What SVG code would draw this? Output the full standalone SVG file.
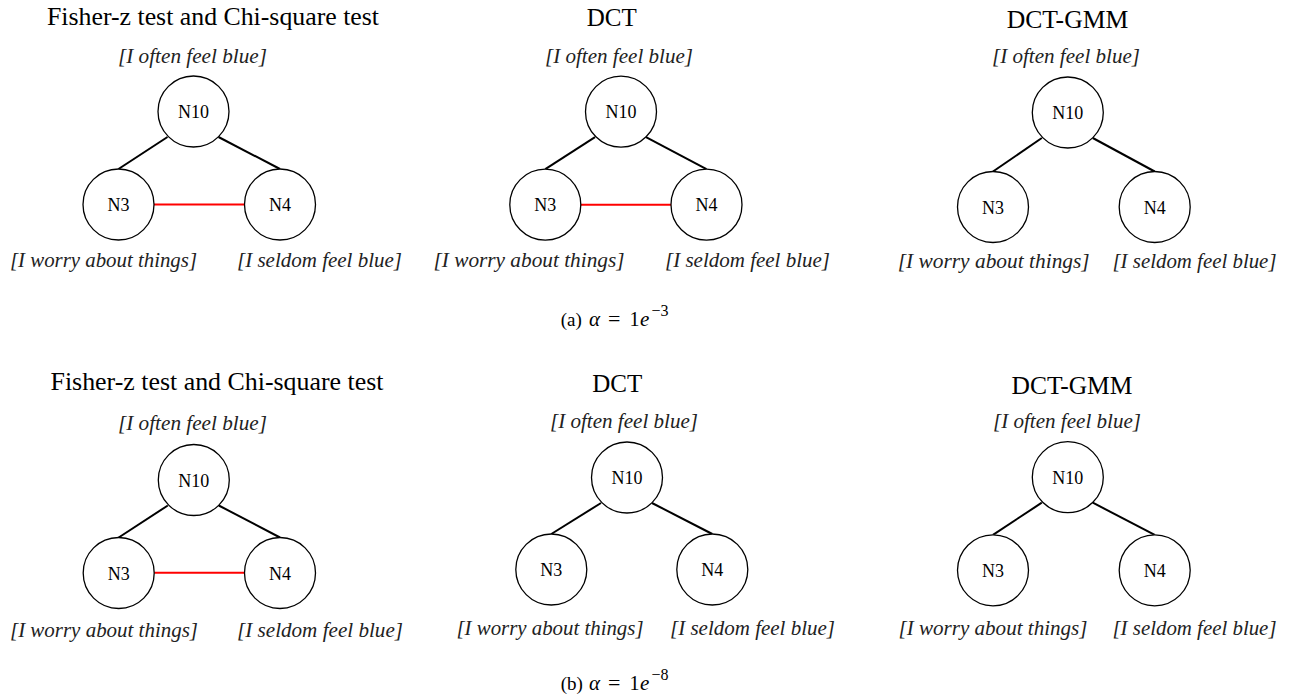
<svg xmlns="http://www.w3.org/2000/svg" width="1289" height="698" viewBox="0 0 1289 698">
<style>
  .bg{fill:#ffffff}
  .node circle{fill:#ffffff;stroke:#000000;stroke-width:1.3}
  .node text{font-family:"Liberation Serif","Times New Roman","DejaVu Serif",serif;font-size:18px;fill:#000;text-anchor:middle}
  .edge{stroke:#000000;stroke-width:2;fill:none}
  .red{stroke:#ff0000;stroke-width:2;fill:none}
  .title{font-family:"Liberation Serif","Times New Roman","DejaVu Serif",serif;font-size:25px;fill:#000;text-anchor:middle}
  .lab{font-family:"Liberation Serif","Times New Roman","DejaVu Serif",serif;font-size:20px;font-style:italic;fill:#222;text-anchor:middle}
  .cap{font-family:"Liberation Serif","Times New Roman","DejaVu Serif",serif;font-size:19px;fill:#000}
  .math{font-family:"Liberation Serif","Times New Roman",serif;font-style:italic;font-size:21px}
</style>
<rect class="bg" x="0" y="0" width="1289" height="698"/>

<g id="connectors">
  <line class="edge" x1="167.5" y1="137" x2="118.5" y2="169"/>
  <line class="edge" x1="218.5" y1="137" x2="280" y2="169"/>
  <line class="red" x1="154" y1="204.5" x2="244.5" y2="204.5"/>
  <line class="edge" x1="595" y1="137.2" x2="545.3" y2="169.2"/>
  <line class="edge" x1="646" y1="137.2" x2="706.5" y2="169.2"/>
  <line class="red" x1="580.8" y1="204.7" x2="671" y2="204.7"/>
  <line class="edge" x1="1041.8" y1="138" x2="993" y2="171.5"/>
  <line class="edge" x1="1092.8" y1="138" x2="1154.7" y2="171.5"/>
  <line class="edge" x1="167.8" y1="505.5" x2="118.7" y2="537.5"/>
  <line class="edge" x1="218.8" y1="505.5" x2="280" y2="537.5"/>
  <line class="red" x1="154.2" y1="572.8" x2="244.5" y2="572.8"/>
  <line class="edge" x1="601" y1="503" x2="551.3" y2="534"/>
  <line class="edge" x1="652" y1="503" x2="712.3" y2="534"/>
  <line class="edge" x1="1041.8" y1="502.7" x2="993" y2="534.8"/>
  <line class="edge" x1="1092.8" y1="502.7" x2="1154.7" y2="534.8"/>
</g>

<g id="a1-labels">
  <text class="title" x="213" y="25" textLength="332" lengthAdjust="spacingAndGlyphs">Fisher-z test and Chi-square test</text>
  <text class="lab" x="192.5" y="63" textLength="149" lengthAdjust="spacingAndGlyphs">[I often feel blue]</text>
  <text class="lab" x="103.5" y="267" textLength="187" lengthAdjust="spacingAndGlyphs">[I worry about things]</text>
  <text class="lab" x="319.5" y="267" textLength="165" lengthAdjust="spacingAndGlyphs">[I seldom feel blue]</text>
</g>
<g id="a1-N10" class="node"><circle cx="193.5" cy="111.5" r="35.5"/><text x="193.5" y="118">N10</text></g>
<g id="a1-N3" class="node"><circle cx="118.5" cy="204.5" r="35.5"/><text x="118.5" y="211">N3</text></g>
<g id="a1-N4" class="node"><circle cx="280" cy="204.5" r="35.5"/><text x="280" y="211">N4</text></g>

<g id="a2-labels">
  <text class="title" x="611.7" y="26" textLength="50" lengthAdjust="spacingAndGlyphs">DCT</text>
  <text class="lab" x="619" y="63" textLength="148" lengthAdjust="spacingAndGlyphs">[I often feel blue]</text>
  <text class="lab" x="529" y="267" textLength="191" lengthAdjust="spacingAndGlyphs">[I worry about things]</text>
  <text class="lab" x="747.5" y="267" textLength="165" lengthAdjust="spacingAndGlyphs">[I seldom feel blue]</text>
</g>
<g id="a2-N10" class="node"><circle cx="621" cy="111.7" r="35.5"/><text x="621" y="118.2">N10</text></g>
<g id="a2-N3" class="node"><circle cx="545.3" cy="204.7" r="35.5"/><text x="545.3" y="211.2">N3</text></g>
<g id="a2-N4" class="node"><circle cx="706.5" cy="204.7" r="35.5"/><text x="706.5" y="211.2">N4</text></g>

<g id="a3-labels">
  <text class="title" x="1067.5" y="28" textLength="121.6" lengthAdjust="spacingAndGlyphs">DCT-GMM</text>
  <text class="lab" x="1066" y="63" textLength="148" lengthAdjust="spacingAndGlyphs">[I often feel blue]</text>
  <text class="lab" x="993.7" y="268" textLength="192" lengthAdjust="spacingAndGlyphs">[I worry about things]</text>
  <text class="lab" x="1194.5" y="268" textLength="164" lengthAdjust="spacingAndGlyphs">[I seldom feel blue]</text>
</g>
<g id="a3-N10" class="node"><circle cx="1067.8" cy="112.5" r="35.5"/><text x="1067.8" y="119">N10</text></g>
<g id="a3-N3" class="node"><circle cx="993" cy="207" r="35.5"/><text x="993" y="213.5">N3</text></g>
<g id="a3-N4" class="node"><circle cx="1154.7" cy="207" r="35.5"/><text x="1154.7" y="213.5">N4</text></g>

<g id="caption-a" class="cap">
  <text x="560.7" y="326">(a)</text>
  <text class="math" x="589" y="326">α</text>
  <text x="608" y="326" font-size="22">=</text>
  <text x="629.5" y="326" font-size="20">1</text>
  <text class="math" x="640" y="326">e</text>
  <text x="651.5" y="316" font-size="16">−3</text>
</g>

<g id="b1-labels">
  <text class="title" x="217" y="390" textLength="333" lengthAdjust="spacingAndGlyphs">Fisher-z test and Chi-square test</text>
  <text class="lab" x="192.5" y="430" textLength="149" lengthAdjust="spacingAndGlyphs">[I often feel blue]</text>
  <text class="lab" x="104" y="636.5" textLength="188" lengthAdjust="spacingAndGlyphs">[I worry about things]</text>
  <text class="lab" x="320" y="636.5" textLength="166" lengthAdjust="spacingAndGlyphs">[I seldom feel blue]</text>
</g>
<g id="b1-N10" class="node"><circle cx="193.8" cy="480" r="35.5"/><text x="193.8" y="486.5">N10</text></g>
<g id="b1-N3" class="node"><circle cx="118.7" cy="573" r="35.5"/><text x="118.7" y="579.5">N3</text></g>
<g id="b1-N4" class="node"><circle cx="280" cy="573" r="35.5"/><text x="280" y="579.5">N4</text></g>

<g id="b2-labels">
  <text class="title" x="617.3" y="391.5" textLength="50" lengthAdjust="spacingAndGlyphs">DCT</text>
  <text class="lab" x="624" y="428.3" textLength="148" lengthAdjust="spacingAndGlyphs">[I often feel blue]</text>
  <text class="lab" x="550" y="635" textLength="187" lengthAdjust="spacingAndGlyphs">[I worry about things]</text>
  <text class="lab" x="752.5" y="635" textLength="165" lengthAdjust="spacingAndGlyphs">[I seldom feel blue]</text>
</g>
<g id="b2-N10" class="node"><circle cx="627" cy="477.5" r="35.5"/><text x="627" y="484">N10</text></g>
<g id="b2-N3" class="node"><circle cx="551.3" cy="569.5" r="35.5"/><text x="551.3" y="576">N3</text></g>
<g id="b2-N4" class="node"><circle cx="712.3" cy="569.5" r="35.5"/><text x="712.3" y="576">N4</text></g>

<g id="b3-labels">
  <text class="title" x="1072" y="394" textLength="121" lengthAdjust="spacingAndGlyphs">DCT-GMM</text>
  <text class="lab" x="1067" y="428.3" textLength="148" lengthAdjust="spacingAndGlyphs">[I often feel blue]</text>
  <text class="lab" x="993" y="635" textLength="189" lengthAdjust="spacingAndGlyphs">[I worry about things]</text>
  <text class="lab" x="1194.5" y="635" textLength="164" lengthAdjust="spacingAndGlyphs">[I seldom feel blue]</text>
</g>
<g id="b3-N10" class="node"><circle cx="1067.8" cy="477.2" r="35.5"/><text x="1067.8" y="483.7">N10</text></g>
<g id="b3-N3" class="node"><circle cx="993" cy="570.3" r="35.5"/><text x="993" y="576.8">N3</text></g>
<g id="b3-N4" class="node"><circle cx="1154.7" cy="570.3" r="35.5"/><text x="1154.7" y="576.8">N4</text></g>

<g id="caption-b" class="cap">
  <text x="560.7" y="690">(b)</text>
  <text class="math" x="589" y="690">α</text>
  <text x="608" y="690" font-size="22">=</text>
  <text x="629.5" y="690" font-size="20">1</text>
  <text class="math" x="640" y="690">e</text>
  <text x="651.5" y="680" font-size="16">−8</text>
</g>
</svg>
